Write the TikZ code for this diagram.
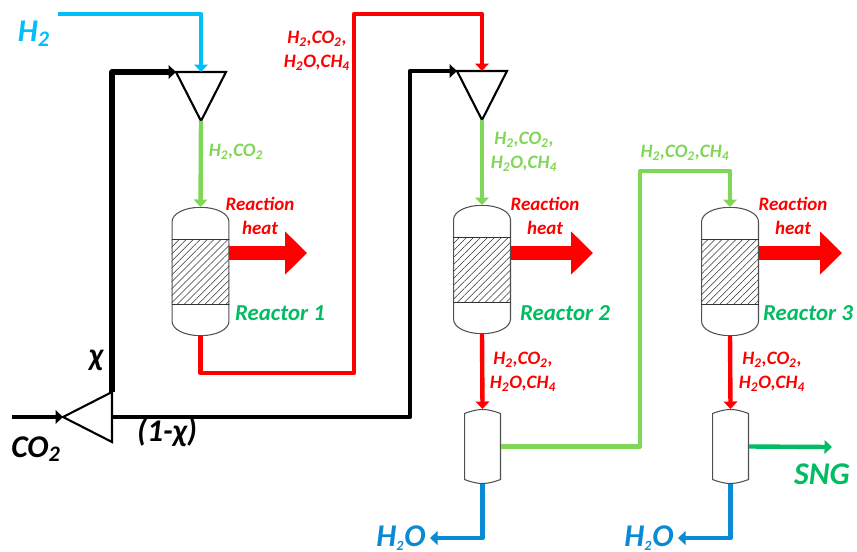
\documentclass[tikz,border=0pt]{standalone}
\usepackage{fontspec}
\setmainfont{Carlito}
\usetikzlibrary{arrows.meta,patterns.meta,shapes.geometric}
\definecolor{hcyan}{HTML}{00BFFA}
\definecolor{lgreen}{HTML}{80D657}
\definecolor{dgreen}{HTML}{00BC62}
\definecolor{wblue}{HTML}{0A8AD2}
\definecolor{vline}{HTML}{505050}
\newcommand{\tsb}[1]{\textsubscript{#1}}
\newcommand{\tinysb}[1]{\textsubscript{\fontsize{8}{8}\selectfont #1}}
\tikzset{
  flow/.style={line width=2.5pt,line join=round,-{Triangle[length=.15cm,width=.27cm]}},
  feed/.style={flow,line width=3pt},
  heatarrow/.style={draw=red,line width=.28cm,-{Triangle[length=.44cm,width=.84cm]}},
  mixer/.style={draw,line width=1.2pt,isosceles triangle,isosceles triangle stretches,inner sep=0pt,outer sep=0pt,minimum width=1cm,minimum height=.98cm},
  lab/.style={align=center,inner sep=0pt},
  gas/.style={lab,font=\fontsize{10.8}{13.6}\bfseries\itshape\selectfont},
  big/.style={lab,font=\fontsize{13}{15}\bfseries\itshape\selectfont},
  huge/.style={lab,font=\fontsize{18}{20}\bfseries\itshape\selectfont},
  reactor/.style={inner sep=0pt,outer sep=0pt,minimum width=1.16cm,minimum height=2.58cm,path picture={
    \begin{scope}[shift={(path picture bounding box.center)},x=.02cm,y=-.02cm,line width=.6pt,draw=vline]
      \fill[pattern={Lines[angle=45,distance=2.8pt,line width=.3pt]},pattern color=black!80] (-29,-32.5) rectangle (29,32.5);
      \draw (-28.5,-49.5) .. controls (-28.5,-58) and (-15.7,-64.2) .. (0,-64.2) .. controls (15.7,-64.2) and (28.5,-58) .. (28.5,-49.5) -- (28.5,49.5) .. controls (28.5,58) and (15.7,64.2) .. (0,64.2) .. controls (-15.7,64.2) and (-28.5,58) .. (-28.5,49.5) -- cycle;
      \draw[line width=.5pt,black!80] (-29,-32.5) -- (29,-32.5) (-29,32.5) -- (29,32.5);
    \end{scope}}},
  separator/.style={inner sep=0pt,outer sep=0pt,minimum width=.74cm,minimum height=1.5cm,path picture={
    \begin{scope}[shift={(path picture bounding box.center)},x=.02cm,y=-.02cm,line width=.6pt,draw=vline]
      \draw (-18,-33) .. controls (-10,-36) and (-5,-37) .. (0,-37) .. controls (5,-37) and (10,-36) .. (18,-33) -- (18,33) .. controls (10,36) and (5,37) .. (0,37) .. controls (-5,37) and (-10,36) .. (-18,33) -- cycle;
    \end{scope}}}
}
\begin{document}
\begin{tikzpicture}[x=.02cm,y=-.02cm]
\useasboundingbox (0,0) rectangle (857,551);

\node[reactor] (r1) at (200.5,271.5) {};
\node[reactor] (r2) at (482,269.5) {};
\node[reactor] (r3) at (730,271.5) {};
\node[separator] (s2) at (482.5,446.5) {};
\node[separator] (s3) at (730.5,446.5) {};

\node[mixer,shape border rotate=270,anchor=lower side] (m1) at (201,72) {};
\node[mixer,shape border rotate=270,anchor=lower side] (m2) at (482,71) {};
\node[mixer,shape border rotate=180,anchor=lower side] (sp) at (112,417) {};

\coordinate (hin) at (58,14);
\coordinate (cin) at (12,417);
\coordinate (ra) at (354,373);
\coordinate (rb) at (354,14);
\coordinate (ja) at (410,71);
\coordinate (ga) at (640,171);
\coordinate (w2) at (430,538);
\coordinate (w3) at (678,538);
\coordinate (sng) at (832,447);
\coordinate (h1) at (307,253);
\coordinate (h2) at (593,253);
\coordinate (h3) at (842,253);

\draw[flow,draw=hcyan,-{Triangle[length=.15cm,width=.27cm,fill=hcyan]}] (hin) -| (m1.lower side);
\draw[feed] (sp.right corner) |- (m1.right corner);
\draw[flow] (cin) -- (sp.apex);
\draw[flow] (sp.lower side) -| (ja) -- (m2.right corner);
\draw[flow,draw=lgreen] (m1.apex) -- (r1.north);
\draw[flow,draw=lgreen] (m2.apex) -- (r2.north);
\draw[flow,draw=red] (r1.south) |- (ra) -- (rb) -| (m2.lower side);
\draw[flow,draw=red] (r2.south) -- (s2.north);
\draw[flow,draw=red] (r3.south) -- (s3.north);
\draw[flow,draw=lgreen] (s2.east) -| (ga) -| (r3.north);
\draw[flow,draw=dgreen] (s3.east) -- (sng);
\draw[flow,draw=wblue] (s2.south) |- (w2);
\draw[flow,draw=wblue] (s3.south) |- (w3);
\draw[heatarrow] (r1.east |- h1) -- (h1);
\draw[heatarrow] (r2.east |- h2) -- (h2);
\draw[heatarrow] (r3.east |- h3) -- (h3);

\node[huge,text=hcyan] (th) at (34,34) {H\tsb{2}};
\node[huge] (tc) at (36,449) {CO\tsb{2}};
\node[huge] (tx) at (96,360) {χ};
\node[huge] (ty) at (167,432) {(1-χ)};
\node[gas,text=red] (t1) at (317,51) {H\tsb{2},CO\tsb{2},\\H\tsb{2}O,CH\tsb{4}};
\node[gas,text=lgreen] (t2) at (236,152) {H\tsb{2},CO\tsb{2}};
\node[gas,text=lgreen] (t3) at (524,152) {H\tsb{2},CO\tsb{2},\\H\tsb{2}O,CH\tsb{4}};
\node[gas,text=lgreen] (t4) at (685,153) {H\tsb{2},CO\tsb{2},CH\tsb{4}};
\node[gas,text=red] (t5) at (523,372) {H\tsb{2},CO\tsb{2},\\H\tsb{2}O,CH\tsb{4}};
\node[gas,text=red] (t6) at (772,372) {H\tsb{2},CO\tsb{2},\\H\tsb{2}O,CH\tsb{4}};
\node[gas,text=red] (q1) at (260,216) {Reaction\\heat};
\node[gas,text=red] (q2) at (545,216) {Reaction\\heat};
\node[gas,text=red] (q3) at (793,216) {Reaction\\heat};
\node[big,text=dgreen] (n1) at (280,313) {Reactor 1};
\node[big,text=dgreen] (n2) at (565,313) {Reactor 2};
\node[big,text=dgreen] (n3) at (808,313) {Reactor 3};
\node[huge,text=dgreen] (tg) at (822,474) {SNG};
\node[huge,text=wblue,anchor=base] (w2t) at (401,546) {H\tinysb{2}O};
\node[huge,text=wblue,anchor=base] (w3t) at (649,546) {H\tinysb{2}O};
\end{tikzpicture}
\end{document}
